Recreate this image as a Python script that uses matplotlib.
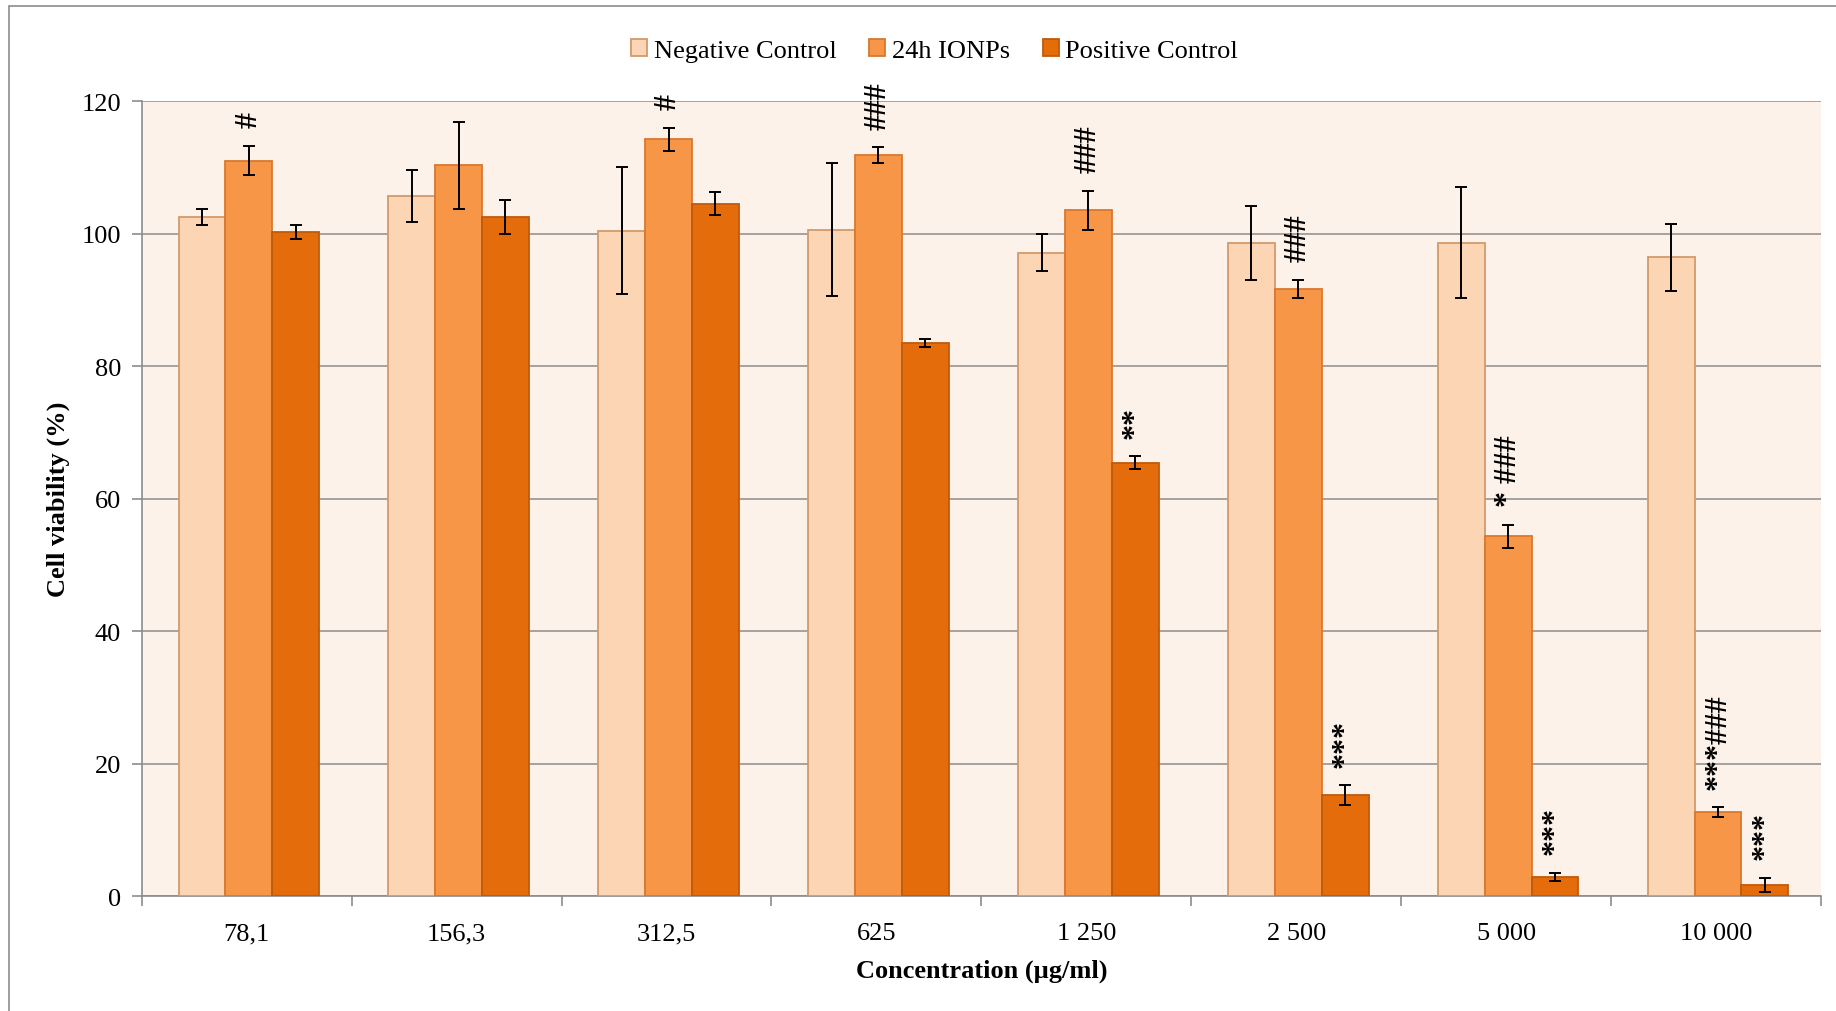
import numpy as np
import matplotlib
matplotlib.use('Agg')
import matplotlib.pyplot as plt
from matplotlib.patches import Rectangle

plt.rcParams['font.family'] = ['Liberation Serif', 'DejaVu Serif']

concentrations = ['78,1', '156,3', '312,5', '625', '1 250', '2 500', '5 000', '10 000']

neg_mean = [102.5, 105.7, 100.4, 100.6, 97.1, 98.6, 98.6, 96.4]
neg_err = [1.2, 3.9, 9.6, 10.1, 2.8, 5.6, 8.4, 5.1]
ionp_mean = [111.0, 110.3, 114.2, 111.8, 103.5, 91.6, 54.3, 12.7]
ionp_err = [2.2, 6.6, 1.7, 1.2, 2.9, 1.4, 1.7, 0.7]
pos_mean = [100.2, 102.5, 104.5, 83.5, 65.4, 15.2, 2.9, 1.65]
pos_err = [1.05, 2.5, 1.75, 0.65, 0.95, 1.5, 0.65, 1.1]

ionp_marks = ['#', '', '#', '###', '###', '###', '* ###', '***###']
pos_marks = ['', '', '', '', '**', '***', '***', '***']

fig = plt.figure(figsize=(18.36, 10.12), dpi=100)
ax = fig.add_axes([0.0772, 0.1136, 0.9146, 0.7856])

# outer chart frame
fig.patches.append(Rectangle((9/1836, -0.05), 1.2, 1.05 - 7/1012, transform=fig.transFigure,
                             fill=False, edgecolor='#8c8c8c', lw=1.2, zorder=0))

x = np.arange(len(concentrations))
w = 0.223
series = [
    ('Negative Control', neg_mean, neg_err, '#fcd5b5', '#d29a6a'),
    ('24h IONPs', ionp_mean, ionp_err, '#f79646', '#d9782f'),
    ('Positive Control', pos_mean, pos_err, '#e46c0a', '#bf5a0c'),
]
for i, (name, m, e, fc, ec) in enumerate(series):
    ax.bar(x + (i - 1) * w + 0.01, m, w, color=fc, edgecolor=ec, linewidth=1.3, label=name,
           yerr=e, error_kw=dict(ecolor='black', elinewidth=1.4, capsize=4.5, capthick=1.4),
           zorder=3)

def mark(xs, means, errs, labels):
    for xi, m, e, s in zip(xs, means, errs, labels):
        if not s:
            continue
        ax.annotate(s, (xi, m + e), xytext=(0, 13.5), textcoords='offset points',
                    rotation=90, ha='center', va='bottom', fontsize=23,
                    fontweight='bold', zorder=5)

mark(x + 0.01, ionp_mean, ionp_err, ionp_marks)
mark(x + w + 0.01, pos_mean, pos_err, pos_marks)

ax.set_facecolor('#fdf2e9')
ax.set_xlim(-0.5, len(concentrations) - 0.5)
ax.set_ylim(0, 120)
ax.set_yticks(np.arange(0, 121, 20))
ax.yaxis.grid(True, color='#8c8c8c', lw=1.1)
ax.set_axisbelow(True)

for s in ['top', 'right']:
    ax.spines[s].set_visible(False)
for s in ['left', 'bottom']:
    ax.spines[s].set_color('#8c8c8c')
    ax.spines[s].set_linewidth(1.2)

ax.set_xticks(x)
ax.set_xticklabels(concentrations, fontsize=19)
ax.set_xticks(np.arange(-0.5, len(concentrations)), minor=True)
ax.tick_params(axis='x', which='major', length=0, pad=19)
ax.tick_params(axis='x', which='minor', length=7, width=1.2, color='#8c8c8c')
ax.tick_params(axis='y', length=7, width=1.2, color='#8c8c8c', labelsize=19, pad=8)

ax.set_xlabel('Concentration (µg/ml)', fontsize=19, fontweight='bold', labelpad=10)
ax.set_ylabel('Cell viability (%)', fontsize=19, fontweight='bold', labelpad=8)

fig.legend(loc='center', bbox_to_anchor=(0.509, 0.949), ncol=3, frameon=False,
           fontsize=19, handlelength=0.6, handleheight=0.6, handletextpad=0.25,
           columnspacing=1.25)

fig.savefig('out.png', dpi=100)
